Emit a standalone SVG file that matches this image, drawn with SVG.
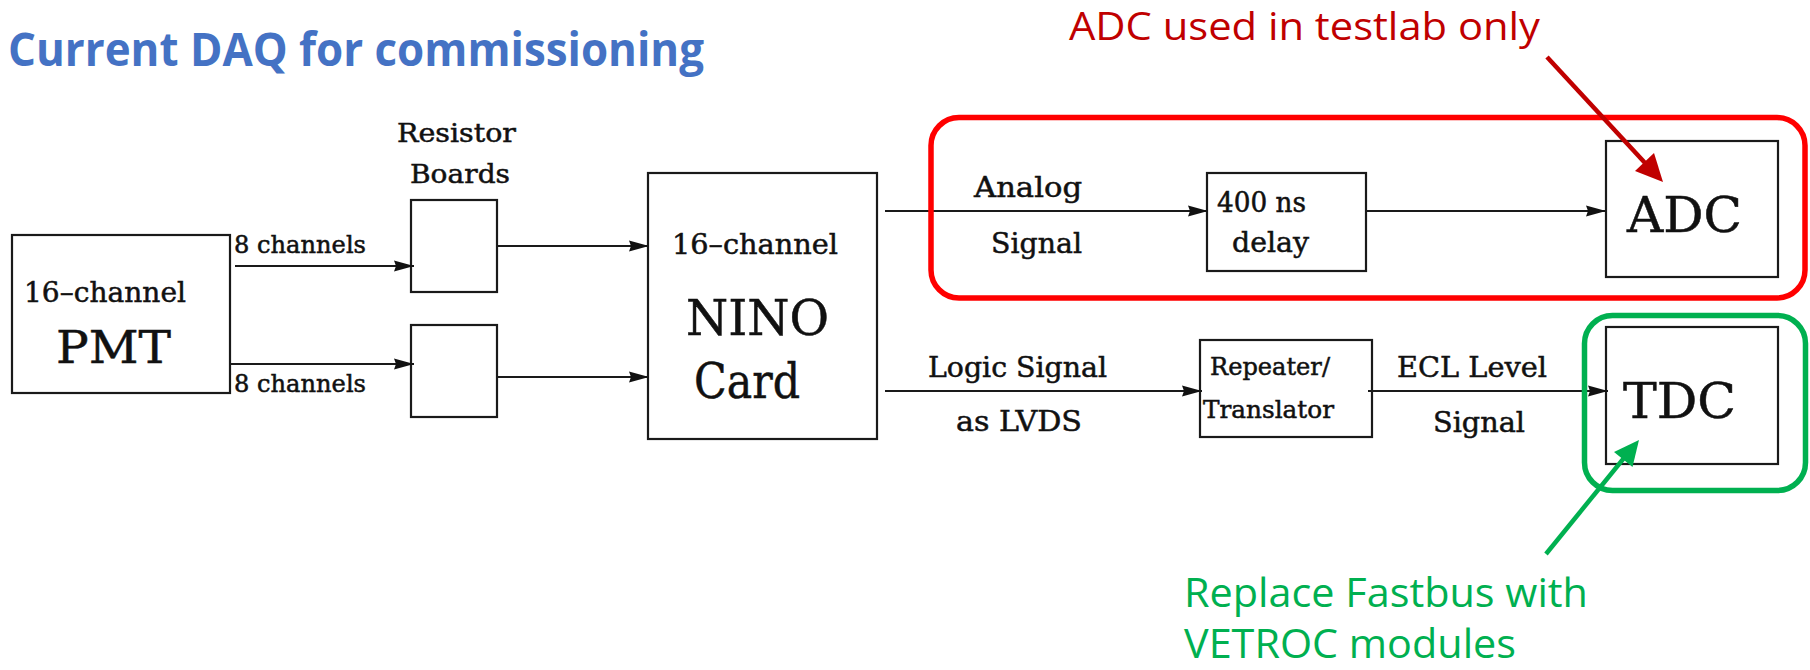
<svg xmlns="http://www.w3.org/2000/svg" width="1810" height="670" viewBox="0 0 1810 670">
<style>
.box{fill:#fff;stroke:#1a1a1a;stroke-width:2.2}
.lbl{font-family:"DejaVu Serif","Liberation Serif",serif;fill:#111;stroke:#111;stroke-width:0.5;text-anchor:start}
.con{stroke:#1a1a1a;stroke-width:2.2;fill:none;marker-end:url(#ah)}
.note{font-family:"Open Sans","Noto Sans",sans-serif}
</style>
<defs>
<marker id="ah" markerUnits="userSpaceOnUse" markerWidth="22" markerHeight="14" refX="20" refY="7" orient="auto">
<path d="M0,1.5 L20,7 L0,12.5 L2,7 Z" fill="#111"/>
</marker>
</defs>
<rect width="1810" height="670" fill="#fff"/>
<text class="note" x="8" y="66" font-size="46" font-weight="bold" fill="#4472C4" textLength="696" lengthAdjust="spacingAndGlyphs">Current DAQ for commissioning</text>

<g id="pmt">
<rect class="box" x="12" y="235" width="218" height="158"/>
<text class="lbl" x="24" y="302" font-size="28" textLength="162" lengthAdjust="spacingAndGlyphs">16–channel</text>
<text class="lbl" x="56" y="363" font-size="45" textLength="115" lengthAdjust="spacingAndGlyphs">PMT</text>
</g>
<g id="resistor-label">
<text class="lbl" x="397" y="142" font-size="26" textLength="119" lengthAdjust="spacingAndGlyphs">Resistor</text>
<text class="lbl" x="410" y="183" font-size="26" textLength="100" lengthAdjust="spacingAndGlyphs">Boards</text>
</g>
<g id="rb1"><rect class="box" x="411" y="200" width="86" height="92"/></g>
<g id="rb2"><rect class="box" x="411" y="325" width="86" height="92"/></g>
<g id="nino">
<rect class="box" x="648" y="173" width="229" height="266"/>
<text class="lbl" x="672" y="254" font-size="28" textLength="166" lengthAdjust="spacingAndGlyphs">16–channel</text>
<text class="lbl" x="686" y="335" font-size="48" textLength="143" lengthAdjust="spacingAndGlyphs">NINO</text>
<text class="lbl" x="694" y="398" font-size="48" textLength="106" lengthAdjust="spacingAndGlyphs">Card</text>
</g>
<g id="delay">
<rect class="box" x="1207" y="173" width="159" height="98"/>
<text class="lbl" x="1217" y="212" font-size="27" textLength="89" lengthAdjust="spacingAndGlyphs">400 ns</text>
<text class="lbl" x="1232" y="252" font-size="27" textLength="77" lengthAdjust="spacingAndGlyphs">delay</text>
</g>
<g id="adc">
<rect class="box" x="1606" y="141" width="172" height="136"/>
<text class="lbl" x="1627" y="232" font-size="48" textLength="115" lengthAdjust="spacingAndGlyphs">ADC</text>
</g>
<g id="repeater">
<rect class="box" x="1200" y="340" width="172" height="97"/>
<text class="lbl" x="1210" y="375" font-size="24" textLength="120" lengthAdjust="spacingAndGlyphs">Repeater/</text>
<text class="lbl" x="1203" y="418" font-size="24" textLength="131" lengthAdjust="spacingAndGlyphs">Translator</text>
</g>
<g id="tdc">
<rect class="box" x="1606" y="327" width="172" height="137"/>
<text class="lbl" x="1623" y="418" font-size="48" textLength="113" lengthAdjust="spacingAndGlyphs">TDC</text>
</g>

<g id="connectors">
<path class="con" d="M235,266 H414"/>
<path class="con" d="M230,364 H414"/>
<path class="con" d="M497,246 H649"/>
<path class="con" d="M497,377 H649"/>
<path class="con" d="M885,211 H1208"/>
<path class="con" d="M1366,211 H1606"/>
<path class="con" d="M885,391 H1202"/>
<path class="con" d="M1368,391 H1608"/>
<text class="lbl" x="234" y="253" font-size="23.5" textLength="132" lengthAdjust="spacingAndGlyphs">8 channels</text>
<text class="lbl" x="234" y="392" font-size="23.5" textLength="132" lengthAdjust="spacingAndGlyphs">8 channels</text>
<text class="lbl" x="974" y="197" font-size="28" textLength="108" lengthAdjust="spacingAndGlyphs">Analog</text>
<text class="lbl" x="991" y="253" font-size="28" textLength="91" lengthAdjust="spacingAndGlyphs">Signal</text>
<text class="lbl" x="928" y="377" font-size="28" textLength="179" lengthAdjust="spacingAndGlyphs">Logic Signal</text>
<text class="lbl" x="956" y="431" font-size="28" textLength="126" lengthAdjust="spacingAndGlyphs">as LVDS</text>
<text class="lbl" x="1397" y="377" font-size="28" textLength="150" lengthAdjust="spacingAndGlyphs">ECL Level</text>
<text class="lbl" x="1433" y="432" font-size="28" textLength="92" lengthAdjust="spacingAndGlyphs">Signal</text>
</g>

<g id="adc-note">
<rect x="931" y="117.5" width="874" height="180.5" rx="28" fill="none" stroke="#FF0000" stroke-width="5.5"/>
<line x1="1547" y1="57" x2="1646" y2="164" stroke="#C00000" stroke-width="4.5"/>
<polygon points="1663,182 1635,171 1654,153" fill="#C00000"/>
<text class="note" x="1069" y="40" font-size="39" fill="#C00000" textLength="471" lengthAdjust="spacingAndGlyphs">ADC used in testlab only</text>
</g>
<g id="tdc-note">
<rect x="1584.5" y="315.5" width="221" height="175" rx="28" fill="none" stroke="#00B050" stroke-width="5.5"/>
<line x1="1546" y1="554" x2="1624" y2="458" stroke="#00B050" stroke-width="4.5"/>
<polygon points="1639,440 1632.5,467 1614,452" fill="#00B050"/>
<text class="note" x="1184" y="607" font-size="40" fill="#00B050" textLength="404" lengthAdjust="spacingAndGlyphs">Replace Fastbus with</text>
<text class="note" x="1184" y="658" font-size="40" fill="#00B050" textLength="332" lengthAdjust="spacingAndGlyphs">VETROC modules</text>
</g>
</svg>
